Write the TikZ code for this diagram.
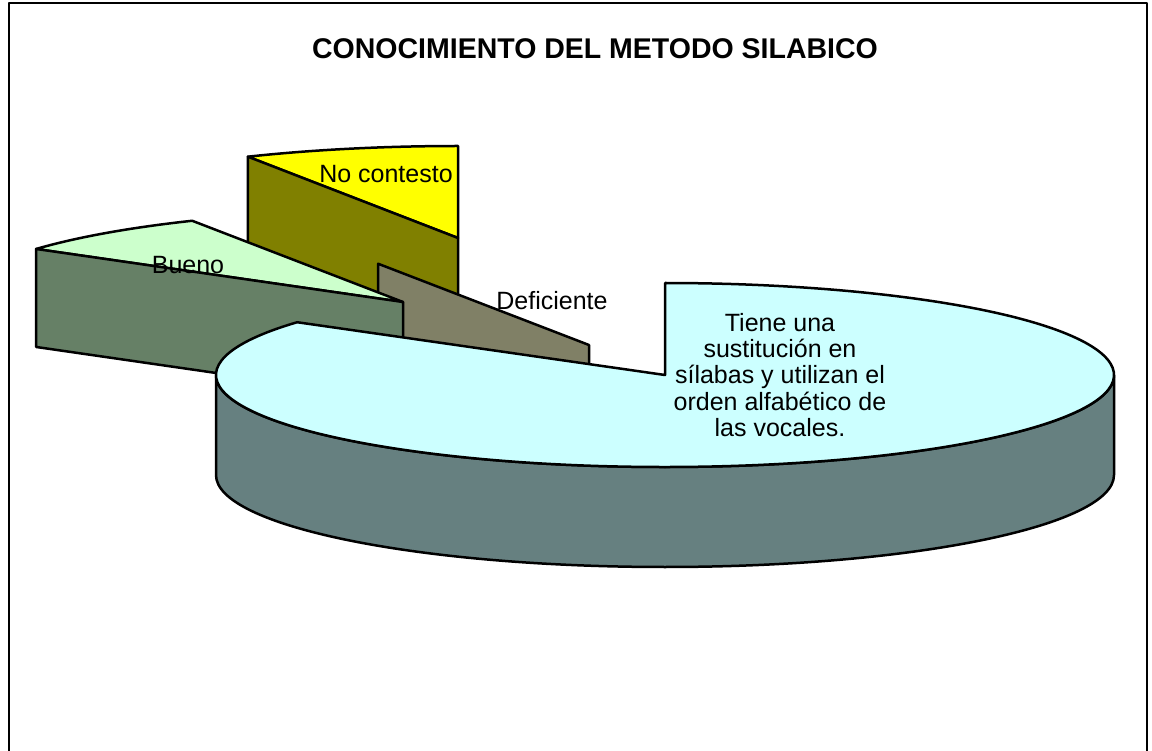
\documentclass[tikz,border=0pt]{standalone}
\usepackage{fontspec}
\setmainfont{Liberation Sans}
\definecolor{amarillo}{HTML}{FFFF00}
\definecolor{oliva}{HTML}{808000}
\definecolor{verdeclaro}{HTML}{CCFFCC}
\definecolor{verdeosc}{HTML}{668066}
\definecolor{celeste}{HTML}{CCFFFF}
\definecolor{grisazul}{HTML}{668080}
\definecolor{pardo}{HTML}{808066}
\lineskiplimit=-100pt
\begin{document}
\begin{tikzpicture}[x=1pt,y=-1pt,line join=round,
		cara/.style={draw,line width=2.5},
		etiq/.style={font=\fontsize{25}{26.3}\selectfont,inner sep=0pt}]
	\useasboundingbox (0,0) rectangle (1152,751);
	\draw[line width=1.8] (9,751)--(9,3)--(1147,3)--(1147,751);
	\node[inner sep=0pt,font=\fontsize{28.5}{34}\selectfont\bfseries] (titulo) at (595,49) {CONOCIMIENTO DEL METODO SILABICO};
	\begin{scope}[shift={(458,238)}]
		\draw[cara,fill=amarillo] (0,0)--(-90:449 and 92) arc[start angle=-90,end angle=-117.9,x radius=449,y radius=92]--cycle;
		\draw[cara,fill=oliva] (0,0)--(-117.9:449 and 92)--++(0,97)--(0,97)--cycle;
	\end{scope}
	\begin{scope}[shift={(589,345)}]
		\draw[cara,fill=pardo] (0,0)--(-118:449 and 92)--++(0,97)--(0,97)--cycle;
	\end{scope}
	\begin{scope}[shift={(403,302)}]
		\draw[cara,fill=verdeclaro] (0,0)--(-118:449 and 92) arc[start angle=-118,end angle=-144.8,x radius=449,y radius=92]--cycle;
		\draw[cara,fill=verdeosc] (0,0)--(-144.8:449 and 92)--++(0,98)--(0,98)--cycle;
	\end{scope}
	\begin{scope}[shift={(665,375)}]
		\draw[cara,fill=grisazul] (-180:449 and 92) arc[start angle=-180,end angle=-360,x radius=449,y radius=92]--++(0,100)
			arc[start angle=0,end angle=180,x radius=449,y radius=92]--cycle;
		\draw[cara,fill=celeste] (0,0)--(-145:449 and 92) arc[start angle=-145,end angle=-450,x radius=449,y radius=92]--cycle;
	\end{scope}
	\node[etiq] (nocontesto) at (386,174) {No contesto};
	\node[etiq] (bueno) at (188,265) {Bueno};
	\node[etiq] (deficiente) at (552,301) {Deficiente};
	\node[etiq,align=center] (tiene) at (780,375) {Tiene una\\sustitución en\\sílabas y utilizan el\\orden alfabético de\\las vocales.};
\end{tikzpicture}
\end{document}
